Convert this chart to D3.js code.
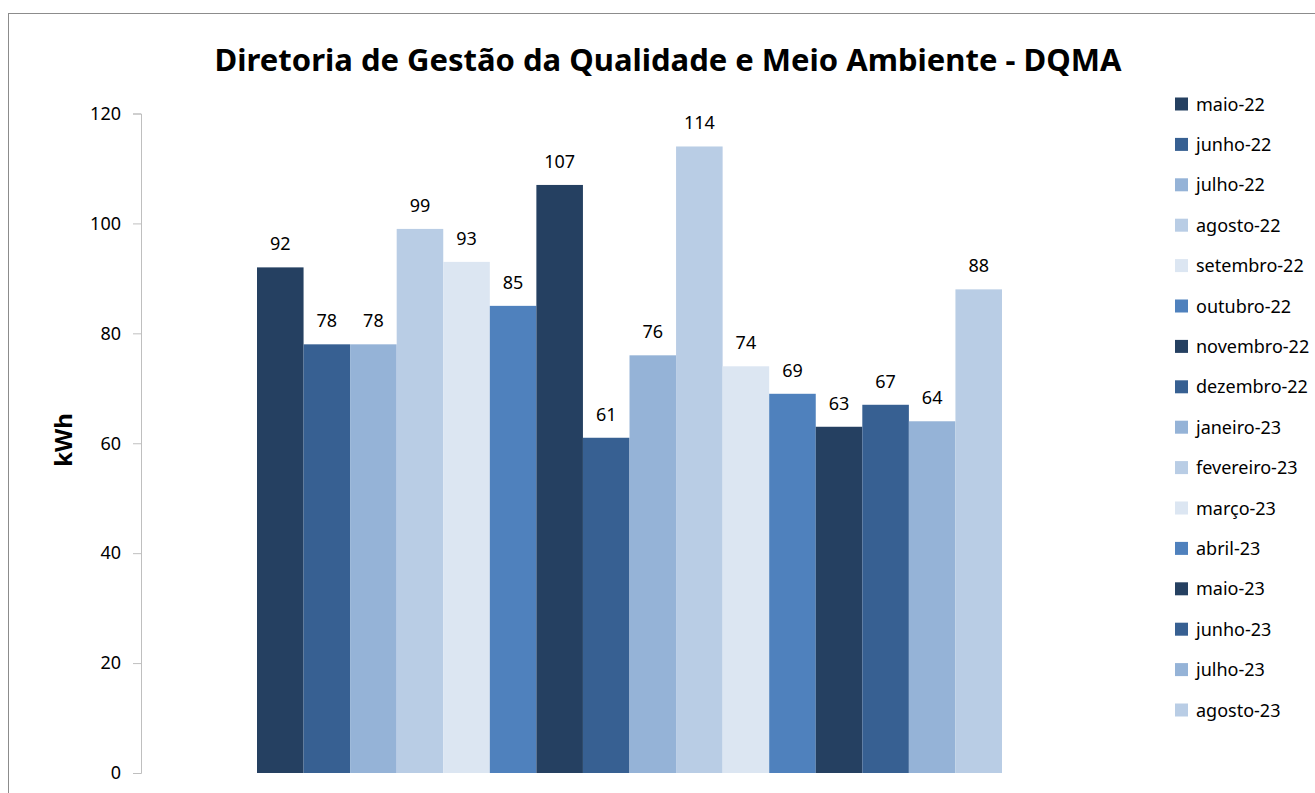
<!DOCTYPE html>
<html lang="pt">
<head>
<meta charset="UTF-8">
<title>DQMA kWh</title>
<script src="https://cdn.jsdelivr.net/npm/d3@7"></script>
<style>
    body { margin: 0; background: #fff; }
    svg { display: block; font-family: "Noto Sans", "Open Sans", sans-serif; }
</style>
</head>
<body>
<script>
    'use strict';
    // dados
    var meses = ['maio-22', 'junho-22', 'julho-22', 'agosto-22', 'setembro-22', 'outubro-22',
        'novembro-22', 'dezembro-22', 'janeiro-23', 'fevereiro-23', 'março-23', 'abril-23',
        'maio-23', 'junho-23', 'julho-23', 'agosto-23'];
    var valores = [92, 78, 78, 99, 93, 85, 107, 61, 76, 114, 74, 69, 63, 67, 64, 88];
    var yTicks = [0, 20, 40, 60, 80, 100, 120];
    var cores = ['#254061', '#376092', '#95B3D7', '#B9CDE5', '#DCE6F2', '#4F81BD'];

    var w = 1315, h = 793;
    var svg = d3.select('body').append('svg')
        .attr('width', w)
        .attr('height', h);

    // moldura do gráfico
    svg.append('rect')
        .attr('x', 8.5).attr('y', 13.5)
        .attr('width', w).attr('height', h)
        .attr('fill', 'none')
        .attr('stroke', '#8c8c8c');

    svg.append('text')
        .attr('x', 668).attr('y', 71)
        .attr('text-anchor', 'middle')
        .attr('font-size', '31px')
        .attr('font-weight', 'bold')
        .text('Diretoria de Gestão da Qualidade e Meio Ambiente - DQMA');

    var y = d3.scaleLinear().domain([0, 120]).range([773, 113.5]);
    var x = d3.scaleBand().domain(meses).range([257, 1002]);

    var eixo = svg.append('g')
        .attr('transform', 'translate(141,0)')
        .call(d3.axisLeft(y).tickValues(yTicks).tickSize(8).tickPadding(12));
    eixo.select('.domain').attr('stroke', '#bfbfbf');
    eixo.selectAll('.tick line').attr('stroke', '#bfbfbf');
    eixo.selectAll('.tick text')
        .attr('font-size', '18px')
        .attr('font-family', '"Noto Sans", sans-serif')
        .attr('fill', '#000');

    svg.append('text')
        .attr('transform', 'translate(72,440) rotate(-90)')
        .attr('text-anchor', 'middle')
        .attr('font-size', '24px')
        .attr('font-weight', 'bold')
        .text('kWh');

    svg.selectAll('rect.barra')
        .data(valores)
        .enter()
        .append('rect')
        .attr('class', 'barra')
        .attr('x', (d, i) => x(meses[i]))
        .attr('width', x.bandwidth())
        .attr('y', d => y(d))
        .attr('height', d => y(0) - y(d))
        .attr('fill', (d, i) => cores[i % cores.length]);

    svg.selectAll('text.rotulo')
        .data(valores)
        .enter()
        .append('text')
        .attr('class', 'rotulo')
        .attr('x', (d, i) => x(meses[i]) + x.bandwidth() / 2)
        .attr('y', d => y(d) - 17)
        .attr('text-anchor', 'middle')
        .attr('font-size', '18px')
        .text(d => d);

    // legenda
    var leg = svg.selectAll('g.leg')
        .data(meses)
        .enter()
        .append('g')
        .attr('class', 'leg')
        .attr('transform', (d, i) => 'translate(1175,' + (104 + i * 40.4) + ')');
    leg.append('rect')
        .attr('x', 0).attr('y', -6.5)
        .attr('width', 13).attr('height', 13)
        .attr('fill', (d, i) => cores[i % cores.length]);
    leg.append('text')
        .attr('x', 21).attr('y', 6.5)
        .attr('font-size', '18px')
        .text(d => d);
</script>
</body>
</html>
